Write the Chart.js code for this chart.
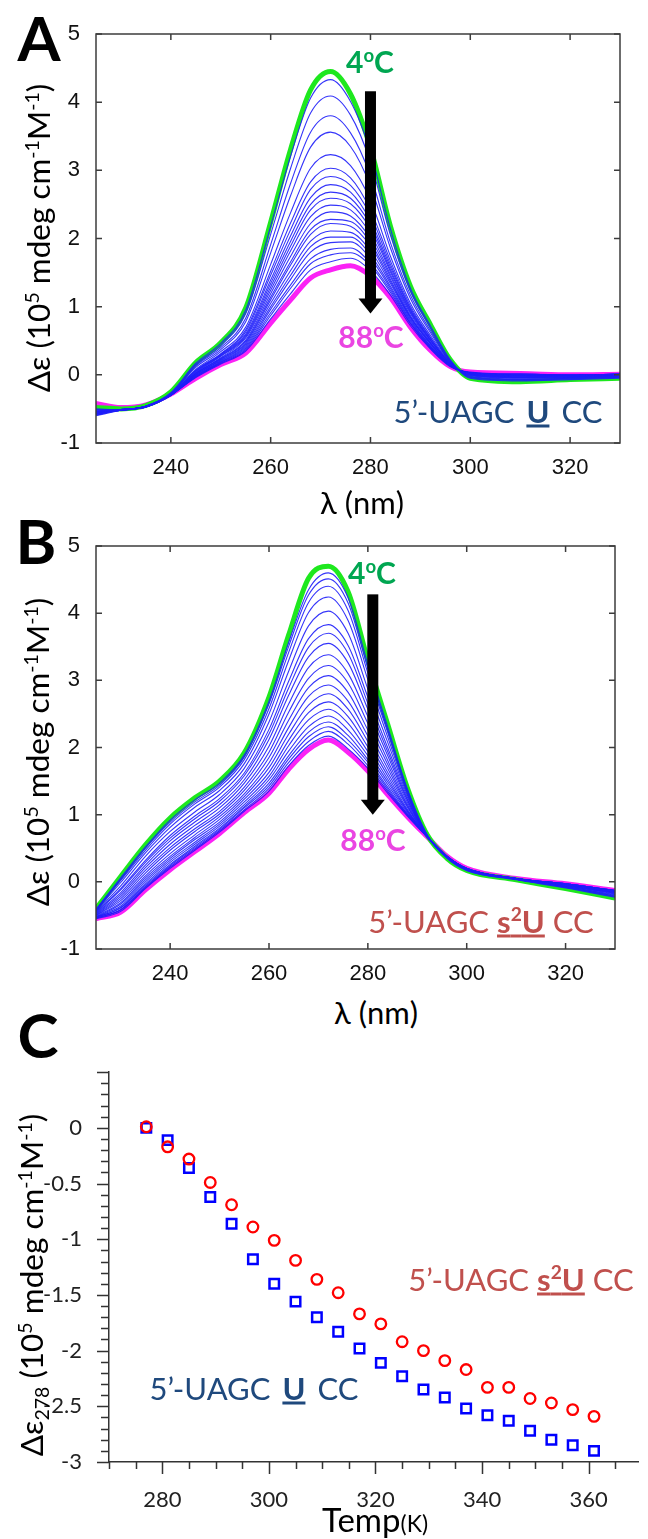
<!DOCTYPE html>
<html>
<head>
<meta charset="utf-8">
<script src="https://cdn.jsdelivr.net/npm/chart.js@4.4.1/dist/chart.umd.min.js"></script>
<style>
  body { margin: 0; background: #fff; }
  #page { position: relative; width: 648px; height: 1539px; overflow: hidden; background: #fff; }
  canvas { position: absolute; left: 0; }
  .t { position: absolute; white-space: nowrap; line-height: 1; font-family: Lato, "Noto Sans", sans-serif; transform: translate(-50%, -50%); color: #000; }
  .rot { transform: translate(-50%, -50%) rotate(-90deg); }
  sup { font-size: 0.62em; vertical-align: 0.6em; line-height: 0; }
  sub { font-size: 0.62em; vertical-align: -0.28em; line-height: 0; }
  .blue { color: #1f497d; }
  .red { color: #c0504d; }
</style>
</head>
<body>
<div id="page">
  <canvas id="chartA" width="648" height="480" style="top:0px"></canvas>
  <canvas id="chartB" width="648" height="490" style="top:500px"></canvas>
  <canvas id="chartC" width="648" height="499" style="top:1040px"></canvas>

  <!-- panel A -->
  <div class="t" style="left:39px;top:37px;font-size:62px;font-weight:700">A</div>
  <div class="t rot" style="left:39px;top:238px;font-size:31.5px">Δε (10<sup>5</sup> mdeg cm<sup>-1</sup>M<sup>-1</sup>)</div>
  <div class="t" style="left:362px;top:502px;font-size:31px">λ (nm)</div>
  <div class="t" style="left:370px;top:61px;font-size:30px;font-weight:700;color:#00a651">4<sup>o</sup>C</div>
  <div class="t" style="left:371px;top:336px;font-size:30px;font-weight:700;color:#ea45e2">88<sup>o</sup>C</div>
  <div class="t blue" style="left:498px;top:411px;font-size:31px">5’-UAGC<b style="margin:0 12px;text-decoration:underline">U</b>CC</div>

  <!-- panel B -->
  <div class="t" style="left:36px;top:540px;font-size:62px;font-weight:700">B</div>
  <div class="t rot" style="left:38px;top:752px;font-size:31.5px">Δε (10<sup>5</sup> mdeg cm<sup>-1</sup>M<sup>-1</sup>)</div>
  <div class="t" style="left:376px;top:1012px;font-size:31px">λ (nm)</div>
  <div class="t" style="left:372px;top:572px;font-size:30px;font-weight:700;color:#00a651">4<sup>o</sup>C</div>
  <div class="t" style="left:373px;top:839px;font-size:30px;font-weight:700;color:#ea45e2">88<sup>o</sup>C</div>
  <div class="t red" style="left:481px;top:921px;font-size:31px">5’-UAGC <b style="text-decoration:underline">s<sup>2</sup>U</b> CC</div>

  <!-- panel C -->
  <div class="t" style="left:38px;top:1034px;font-size:62px;font-weight:700">C</div>
  <div class="t rot" style="left:32px;top:1285px;font-size:31.5px">Δε<sub>278</sub> (10<sup>5</sup> mdeg cm<sup>-1</sup>M<sup>-1</sup>)</div>
  <div class="t" style="left:375px;top:1519px;font-size:33px">Temp<span style="font-size:23px">(K)</span></div>
  <div class="t red" style="left:521px;top:1279px;font-size:31px">5’-UAGC <b style="text-decoration:underline">s<sup>2</sup>U</b> CC</div>
  <div class="t blue" style="left:254px;top:1388px;font-size:31px">5’-UAGC<b style="margin:0 12px;text-decoration:underline">U</b>CC</div>
</div>

<script>
// wavelengths (nm) at which the CD spectra were read
const waveNm = [225, 230, 235, 240, 245, 250, 255, 260, 264, 268, 272, 276, 280, 284, 288, 292, 296, 300, 310, 320, 330];
// intermediate temperatures, blue curves
const midTempsC = [8, 12, 16, 20, 24, 28, 32, 36, 40, 44, 48, 52, 56, 60, 64, 68, 72, 76, 80, 84];

// panel A: 5'-UAGC U CC
const specA_4C = [-0.48, -0.50, -0.45, -0.25, 0.18, 0.47, 0.98, 2.24, 3.31, 4.18, 4.45, 4.12, 3.33, 2.18, 1.30, 0.74, 0.22, -0.05, -0.10, -0.07, -0.05];
const specA_88C = [-0.42, -0.48, -0.44, -0.28, -0.05, 0.15, 0.32, 0.76, 1.10, 1.42, 1.54, 1.60, 1.45, 1.13, 0.70, 0.36, 0.12, 0.04, 0.02, 0.00, 0.01];
const specA_mid = [
  [-0.50, -0.51, -0.46, -0.26, 0.17, 0.46, 0.95, 2.18, 3.21, 4.06, 4.33, 4.01, 3.27, 2.14, 1.27, 0.72, 0.22, -0.05, -0.09, -0.07, -0.05],
  [-0.51, -0.52, -0.46, -0.27, 0.15, 0.43, 0.90, 2.06, 3.03, 3.84, 4.09, 3.81, 3.12, 2.05, 1.23, 0.69, 0.21, -0.04, -0.08, -0.06, -0.04],
  [-0.52, -0.51, -0.47, -0.28, 0.13, 0.40, 0.83, 1.91, 2.81, 3.56, 3.80, 3.55, 2.92, 1.94, 1.17, 0.65, 0.20, -0.03, -0.07, -0.05, -0.04],
  [-0.53, -0.52, -0.46, -0.28, 0.11, 0.37, 0.78, 1.79, 2.63, 3.34, 3.56, 3.35, 2.77, 1.86, 1.12, 0.62, 0.19, -0.02, -0.06, -0.05, -0.03],
  [-0.54, -0.51, -0.47, -0.29, 0.08, 0.34, 0.70, 1.62, 2.38, 3.03, 3.23, 3.07, 2.56, 1.74, 1.05, 0.58, 0.18, -0.01, -0.05, -0.04, -0.02],
  [-0.55, -0.52, -0.46, -0.29, 0.07, 0.31, 0.66, 1.52, 2.23, 2.83, 3.03, 2.89, 2.42, 1.67, 1.01, 0.55, 0.17, 0.00, -0.04, -0.04, -0.02],
  [-0.53, -0.51, -0.47, -0.29, 0.06, 0.30, 0.63, 1.46, 2.13, 2.72, 2.91, 2.78, 2.34, 1.62, 0.98, 0.54, 0.17, 0.00, -0.04, -0.03, -0.02],
  [-0.54, -0.52, -0.46, -0.30, 0.05, 0.29, 0.60, 1.39, 2.04, 2.60, 2.79, 2.68, 2.26, 1.58, 0.96, 0.52, 0.16, 0.00, -0.03, -0.03, -0.01],
  [-0.55, -0.51, -0.47, -0.29, 0.04, 0.28, 0.58, 1.34, 1.96, 2.50, 2.68, 2.59, 2.20, 1.54, 0.94, 0.51, 0.16, 0.01, -0.03, -0.03, -0.01],
  [-0.56, -0.52, -0.46, -0.30, 0.03, 0.27, 0.56, 1.29, 1.89, 2.42, 2.59, 2.51, 2.14, 1.51, 0.92, 0.50, 0.16, 0.01, -0.02, -0.02, -0.01],
  [-0.55, -0.51, -0.47, -0.29, 0.02, 0.25, 0.54, 1.24, 1.82, 2.32, 2.49, 2.42, 2.07, 1.47, 0.90, 0.48, 0.15, 0.01, -0.02, -0.02, 0.00],
  [-0.56, -0.52, -0.46, -0.30, 0.02, 0.24, 0.51, 1.19, 1.74, 2.22, 2.39, 2.33, 2.00, 1.44, 0.87, 0.47, 0.15, 0.02, -0.01, -0.02, 0.00],
  [-0.57, -0.51, -0.47, -0.30, 0.01, 0.23, 0.49, 1.14, 1.66, 2.13, 2.28, 2.25, 1.94, 1.40, 0.85, 0.46, 0.15, 0.02, -0.01, -0.02, 0.00],
  [-0.56, -0.52, -0.46, -0.29, 0.00, 0.22, 0.47, 1.10, 1.61, 2.06, 2.22, 2.18, 1.89, 1.37, 0.84, 0.45, 0.14, 0.02, -0.01, -0.01, 0.00],
  [-0.57, -0.51, -0.47, -0.30, 0.00, 0.21, 0.45, 1.05, 1.53, 1.96, 2.11, 2.09, 1.82, 1.34, 0.82, 0.43, 0.14, 0.02, 0.00, -0.01, 0.00],
  [-0.58, -0.52, -0.46, -0.29, -0.01, 0.20, 0.43, 1.00, 1.46, 1.88, 2.02, 2.02, 1.76, 1.30, 0.80, 0.42, 0.14, 0.03, 0.00, -0.01, 0.01],
  [-0.57, -0.51, -0.47, -0.30, -0.02, 0.19, 0.41, 0.96, 1.40, 1.80, 1.94, 1.95, 1.71, 1.27, 0.78, 0.41, 0.13, 0.03, 0.00, -0.01, 0.01],
  [-0.58, -0.52, -0.46, -0.29, -0.03, 0.18, 0.39, 0.91, 1.32, 1.70, 1.84, 1.86, 1.64, 1.24, 0.76, 0.40, 0.13, 0.03, 0.01, 0.00, 0.01],
  [-0.59, -0.51, -0.47, -0.30, -0.03, 0.17, 0.37, 0.87, 1.27, 1.63, 1.76, 1.79, 1.60, 1.21, 0.75, 0.39, 0.13, 0.03, 0.01, 0.00, 0.01],
  [-0.60, -0.52, -0.46, -0.29, -0.04, 0.16, 0.35, 0.82, 1.19, 1.54, 1.66, 1.71, 1.53, 1.17, 0.72, 0.38, 0.12, 0.04, 0.01, 0.00, 0.01]
];

// panel B: 5'-UAGC s2U CC
const specB_4C = [-0.40, 0.08, 0.55, 0.95, 1.25, 1.50, 1.92, 2.75, 3.68, 4.52, 4.70, 4.32, 3.30, 2.35, 1.40, 0.70, 0.35, 0.17, 0.03, -0.10, -0.24];
const specB_88C = [-0.55, -0.45, -0.12, 0.18, 0.45, 0.72, 1.03, 1.32, 1.68, 1.97, 2.11, 1.93, 1.65, 1.30, 0.97, 0.67, 0.38, 0.20, 0.05, -0.03, -0.13];
const specB_mid = [
  [-0.41, 0.06, 0.52, 0.92, 1.22, 1.47, 1.89, 2.69, 3.57, 4.35, 4.60, 4.23, 3.24, 2.31, 1.38, 0.70, 0.35, 0.17, 0.03, -0.09, -0.23],
  [-0.41, 0.04, 0.50, 0.89, 1.19, 1.44, 1.86, 2.65, 3.51, 4.27, 4.51, 4.15, 3.18, 2.27, 1.37, 0.70, 0.36, 0.17, 0.04, -0.08, -0.22],
  [-0.42, 0.02, 0.47, 0.86, 1.16, 1.41, 1.82, 2.58, 3.42, 4.16, 4.40, 4.04, 3.11, 2.23, 1.35, 0.69, 0.36, 0.18, 0.04, -0.08, -0.21],
  [-0.43, -0.01, 0.43, 0.81, 1.11, 1.36, 1.76, 2.50, 3.30, 4.01, 4.24, 3.89, 3.01, 2.16, 1.32, 0.69, 0.36, 0.18, 0.04, -0.07, -0.20],
  [-0.44, -0.06, 0.38, 0.75, 1.04, 1.30, 1.69, 2.38, 3.14, 3.81, 4.03, 3.70, 2.87, 2.08, 1.29, 0.69, 0.37, 0.18, 0.04, -0.07, -0.19],
  [-0.45, -0.10, 0.32, 0.69, 0.98, 1.24, 1.62, 2.27, 2.99, 3.62, 3.83, 3.52, 2.75, 2.00, 1.26, 0.68, 0.37, 0.19, 0.04, -0.06, -0.18],
  [-0.46, -0.12, 0.29, 0.65, 0.94, 1.20, 1.58, 2.20, 2.89, 3.49, 3.70, 3.40, 2.66, 1.94, 1.23, 0.68, 0.37, 0.19, 0.04, -0.06, -0.17],
  [-0.47, -0.16, 0.25, 0.61, 0.89, 1.15, 1.52, 2.12, 2.78, 3.35, 3.55, 3.26, 2.57, 1.88, 1.21, 0.68, 0.37, 0.19, 0.04, -0.05, -0.17],
  [-0.48, -0.19, 0.21, 0.56, 0.84, 1.10, 1.47, 2.02, 2.65, 3.19, 3.38, 3.10, 2.46, 1.81, 1.18, 0.68, 0.38, 0.19, 0.05, -0.05, -0.16],
  [-0.49, -0.22, 0.17, 0.51, 0.79, 1.05, 1.41, 1.93, 2.53, 3.03, 3.22, 2.96, 2.36, 1.75, 1.15, 0.68, 0.38, 0.19, 0.05, -0.05, -0.16],
  [-0.50, -0.25, 0.13, 0.47, 0.75, 1.01, 1.36, 1.85, 2.41, 2.89, 3.07, 2.82, 2.26, 1.69, 1.13, 0.67, 0.38, 0.20, 0.05, -0.04, -0.15],
  [-0.50, -0.28, 0.09, 0.42, 0.70, 0.97, 1.31, 1.77, 2.30, 2.76, 2.93, 2.69, 2.17, 1.63, 1.11, 0.67, 0.38, 0.20, 0.05, -0.04, -0.15],
  [-0.51, -0.31, 0.06, 0.38, 0.66, 0.93, 1.27, 1.70, 2.20, 2.63, 2.80, 2.57, 2.09, 1.58, 1.08, 0.67, 0.38, 0.20, 0.05, -0.04, -0.14],
  [-0.52, -0.33, 0.03, 0.35, 0.63, 0.89, 1.23, 1.63, 2.11, 2.52, 2.68, 2.46, 2.01, 1.53, 1.06, 0.67, 0.38, 0.20, 0.05, -0.04, -0.14],
  [-0.52, -0.36, 0.00, 0.32, 0.59, 0.86, 1.19, 1.57, 2.03, 2.41, 2.57, 2.36, 1.94, 1.49, 1.05, 0.67, 0.38, 0.20, 0.05, -0.03, -0.13],
  [-0.53, -0.38, -0.03, 0.29, 0.56, 0.83, 1.15, 1.52, 1.95, 2.31, 2.47, 2.26, 1.88, 1.45, 1.03, 0.67, 0.38, 0.20, 0.05, -0.03, -0.13],
  [-0.53, -0.39, -0.05, 0.26, 0.53, 0.80, 1.12, 1.47, 1.88, 2.23, 2.38, 2.18, 1.82, 1.41, 1.01, 0.67, 0.38, 0.20, 0.05, -0.03, -0.13],
  [-0.54, -0.41, -0.07, 0.24, 0.51, 0.78, 1.10, 1.43, 1.83, 2.16, 2.31, 2.11, 1.78, 1.38, 1.00, 0.67, 0.38, 0.20, 0.05, -0.03, -0.13],
  [-0.54, -0.42, -0.09, 0.22, 0.49, 0.76, 1.07, 1.39, 1.78, 2.09, 2.24, 2.05, 1.73, 1.35, 0.99, 0.67, 0.38, 0.20, 0.05, -0.03, -0.13],
  [-0.55, -0.44, -0.10, 0.20, 0.47, 0.74, 1.05, 1.35, 1.73, 2.03, 2.17, 1.98, 1.69, 1.32, 0.98, 0.67, 0.38, 0.20, 0.05, -0.03, -0.13]
];

// panel C: delta eps at 278 nm vs temperature
const tempK = [277, 281, 285, 289, 293, 297, 301, 305, 309, 313, 317, 321, 325, 329, 333, 337, 341, 345, 349, 353, 357, 361];
const de278_s2U = [0.01, -0.17, -0.28, -0.49, -0.69, -0.89, -1.01, -1.19, -1.36, -1.48, -1.67, -1.76, -1.92, -2.00, -2.09, -2.17, -2.33, -2.33, -2.43, -2.47, -2.53, -2.59];
const de278_U = [0.00, -0.11, -0.36, -0.62, -0.86, -1.18, -1.40, -1.56, -1.70, -1.83, -1.98, -2.11, -2.23, -2.35, -2.42, -2.52, -2.58, -2.63, -2.72, -2.80, -2.85, -2.90];

// tick labels
const ticksNm = [240, 260, 280, 300, 320];
const ticksDe = [-1, 0, 1, 2, 3, 4, 5];
const ticksTempC = [280, 300, 320, 340, 360];
const ticksDeC = [0, -0.5, -1, -1.5, -2, -2.5, -3];

const isMul = (v, m) => Math.abs(v / m - Math.round(v / m)) < 1e-6;

// box with inward ticks on all four sides + the temperature arrow
const framePlugin = {
  id: 'frame',
  afterDatasetsDraw(chart, args, opts) {
    const { ctx, scales: { x, y } } = chart;
    const a = opts.arrow;
    const px = x.getPixelForValue(a.x);
    const y1 = y.getPixelForValue(a.top);
    const y2 = y.getPixelForValue(a.tip);
    ctx.save();
    ctx.fillStyle = '#000';
    ctx.fillRect(px - 5.5, y1, 11, y2 - 15 - y1 + 1);
    ctx.beginPath();
    ctx.moveTo(px - 12, y2 - 15);
    ctx.lineTo(px + 12, y2 - 15);
    ctx.lineTo(px, y2);
    ctx.closePath();
    ctx.fill();
    ctx.restore();
  },
  afterDraw(chart) {
    const { ctx, chartArea: c, scales: { x, y } } = chart;
    ctx.save();
    ctx.strokeStyle = '#3c3c3c';
    ctx.lineWidth = 1.5;
    ctx.strokeRect(c.left, c.top, c.right - c.left, c.bottom - c.top);
    ctx.beginPath();
    x.ticks.forEach(t => {
      const p = x.getPixelForValue(t.value);
      ctx.moveTo(p, c.bottom); ctx.lineTo(p, c.bottom - 6);
      ctx.moveTo(p, c.top); ctx.lineTo(p, c.top + 6);
    });
    y.ticks.forEach(t => {
      const p = y.getPixelForValue(t.value);
      ctx.moveTo(c.left, p); ctx.lineTo(c.left + 6, p);
      ctx.moveTo(c.right, p); ctx.lineTo(c.right - 6, p);
    });
    ctx.stroke();
    ctx.restore();
  }
};

// outward major/minor ticks for panel C
const ticksPluginC = {
  id: 'ticksC',
  afterDraw(chart) {
    const { ctx, chartArea: c, scales: { x, y } } = chart;
    ctx.save();
    ctx.strokeStyle = '#333';
    ctx.lineWidth = 1.5;
    ctx.beginPath();
    y.ticks.forEach(t => {
      const p = Math.round(y.getPixelForValue(t.value)) + 0.5;
      const len = isMul(t.value, 0.5) ? 12 : 8;
      ctx.moveTo(c.left, p); ctx.lineTo(c.left - len, p);
    });
    x.ticks.forEach(t => {
      const p = Math.round(x.getPixelForValue(t.value)) + 0.5;
      const len = isMul(t.value, 20) ? 12 : 7;
      ctx.moveTo(p, c.bottom); ctx.lineTo(p, c.bottom + len);
    });
    ctx.stroke();
    ctx.restore();
  }
};

function pts(vals) {
  return waveNm.map((w, i) => ({ x: w, y: vals[i] }));
}

function spectrumSets(cold, hot, mids) {
  const sets = mids.map((row, i) => ({
    label: midTempsC[i] + ' °C', data: pts(row),
    borderColor: 'rgba(30,30,250,0.9)', borderWidth: 1.1, order: 0
  }));
  sets.push({ label: '4 °C', data: pts(cold), borderColor: '#1ee81e', borderWidth: 5, order: 1 });
  sets.push({ label: '88 °C', data: pts(hot), borderColor: '#fb22f5', borderWidth: 5, order: 1 });
  return sets;
}

function spectrumOptions(pad, xHeight, arrow) {
  const tickFont = { family: 'Liberation Sans, Arial, sans-serif', size: 22 };
  return {
    responsive: false,
    animation: false,
    events: [],
    layout: { padding: pad },
    elements: { point: { radius: 0 }, line: { cubicInterpolationMode: 'monotone' } },
    plugins: { legend: { display: false }, tooltip: { enabled: false }, frame: { arrow: arrow } },
    scales: {
      x: {
        type: 'linear', min: 225, max: 330,
        afterFit: s => { s.height = xHeight; },
        afterBuildTicks: s => { s.ticks = ticksNm.map(v => ({ value: v })); },
        grid: { display: false }, border: { display: false },
        ticks: { padding: 4, color: '#111', font: tickFont }
      },
      y: {
        type: 'linear', min: -1, max: 5,
        afterFit: s => { s.width = 96; },
        afterBuildTicks: s => { s.ticks = ticksDe.map(v => ({ value: v })); },
        grid: { display: false }, border: { display: false },
        ticks: { padding: 8, color: '#111', font: tickFont }
      }
    }
  };
}

new Chart(document.getElementById('chartA'), {
  type: 'line',
  data: { datasets: spectrumSets(specA_4C, specA_88C, specA_mid) },
  options: spectrumOptions({ top: 34, right: 28, left: 0, bottom: 0 }, 37, { x: 280, top: 4.16, tip: 0.9 }),
  plugins: [framePlugin]
});

new Chart(document.getElementById('chartB'), {
  type: 'line',
  data: { datasets: spectrumSets(specB_4C, specB_88C, specB_mid) },
  options: spectrumOptions({ top: 46, right: 33, left: 0, bottom: 0 }, 41, { x: 281, top: 4.28, tip: 1.0 }),
  plugins: [framePlugin]
});

const cFont = { family: 'Lato, "Noto Sans", sans-serif', size: 22 };
new Chart(document.getElementById('chartC'), {
  type: 'scatter',
  data: {
    datasets: [
      {
        label: "5’-UAGC s²U CC",
        data: tempK.map((t, i) => ({ x: t, y: de278_s2U[i] })),
        pointStyle: 'circle', pointRadius: 5.3, borderWidth: 2.3,
        borderColor: '#ff0000', backgroundColor: 'rgba(0,0,0,0)'
      },
      {
        label: "5’-UAGC U CC",
        data: tempK.map((t, i) => ({ x: t, y: de278_U[i] })),
        pointStyle: 'rect', pointRadius: 6.7, borderWidth: 2.5,
        borderColor: '#0000ff', backgroundColor: 'rgba(0,0,0,0)'
      }
    ]
  },
  options: {
    responsive: false,
    animation: false,
    events: [],
    layout: { padding: { top: 17, right: 0, left: 0, bottom: 0 } },
    plugins: { legend: { display: false }, tooltip: { enabled: false } },
    scales: {
      x: {
        type: 'linear', min: 270, max: 369.4,
        afterFit: s => { s.height = 77; },
        grid: { display: false },
        border: { display: true, color: '#333', width: 1.5 },
        ticks: {
          stepSize: 5, includeBounds: false, autoSkip: false, maxRotation: 0,
          padding: 17, color: '#222', font: cFont,
          callback: v => ticksTempC.includes(v) ? String(v) : ''
        }
      },
      y: {
        type: 'linear', min: -3, max: 0.5,
        afterFit: s => { s.width = 109; },
        grid: { display: false },
        border: { display: true, color: '#333', width: 1.5 },
        ticks: {
          stepSize: 0.1, autoSkip: false, padding: 19, color: '#222', font: cFont,
          callback: v => ticksDeC.some(t => Math.abs(t - v) < 1e-6) ? String(Math.round(v * 10) / 10) : ''
        }
      }
    }
  },
  plugins: [ticksPluginC]
});
</script>
</body>
</html>
